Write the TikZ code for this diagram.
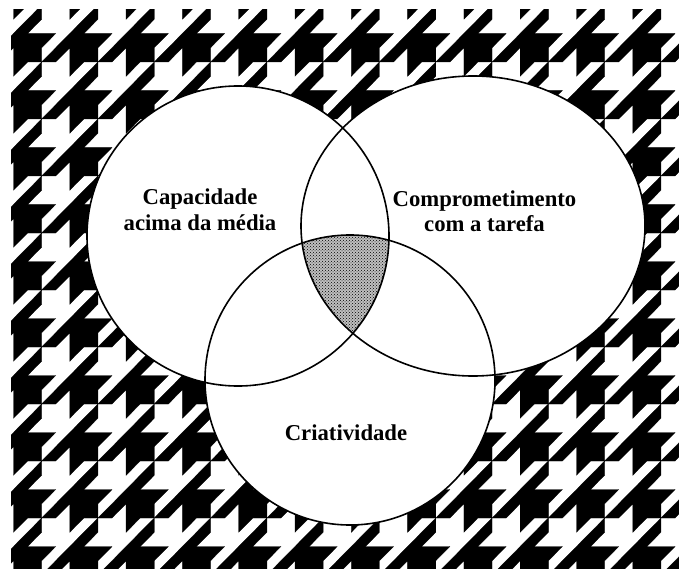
\documentclass[tikz,border=0pt]{standalone}
\usepackage{fontspec}
\setmainfont{Liberation Serif}
\usetikzlibrary{patterns}
\tikzset{
  tooth/.style={fill=black, draw=black, line width=0.3pt},
  setline/.style={draw=black, line width=1.6pt},
  lbl/.style={font=\fontsize{22.7}{25}\selectfont\bfseries, inner sep=0pt, anchor=base},
}
\begin{document}
\begin{tikzpicture}[x=1pt,y=-1pt]
\fill[white] (0,0) rectangle (679,569);
\useasboundingbox (0,0) rectangle (679,569);
% houndstooth background
\begin{scope}
\clip (11,10) rectangle (679,569);
\foreach \i in {-1,...,12}{
  \foreach \j in {-1,...,10}{
    \fill[tooth, shift={({13.5+\i*56.3},{5+\j*57})}, xscale=14.075, yscale=14.25]
      (-2,4) -- (2,0) -- (2,1) -- (1,2) -- (2,2) -- (3,2) -- (2,3) -- (2,4)
      -- (1,4) -- (0,5) -- (0,3) -- (-1,4) -- cycle;
  }
}
\end{scope}
% white sets
\fill[white] (238,236) ellipse [x radius=151, y radius=150];
\fill[white] (473,226) ellipse [x radius=172, y radius=150];
\fill[white] (350,380) ellipse [x radius=145, y radius=145];
% triple intersection
\begin{scope}
\clip (238,236) ellipse [x radius=151, y radius=150];
\clip (473,226) ellipse [x radius=172, y radius=150];
\fill[black!25] (350,380) ellipse [x radius=145, y radius=145];
\fill[pattern=crosshatch dots, pattern color=black] (350,380) ellipse [x radius=145, y radius=145];
\end{scope}
% outlines
\draw[setline] (238,236) ellipse [x radius=151, y radius=150];
\draw[setline] (473,226) ellipse [x radius=172, y radius=150];
\draw[setline] (350,380) ellipse [x radius=145, y radius=145];
% labels
\node[lbl] (cap1) at (200,205) {Capacidade};
\node[lbl] (cap2) at (200,230) {acima da média};
\node[lbl] (comp1) at (484.5,207) {Comprometimento};
\node[lbl] (comp2) at (484.5,231) {com a tarefa};
\node[lbl] (cri) at (346,440) {Criatividade};
\end{tikzpicture}
\end{document}
